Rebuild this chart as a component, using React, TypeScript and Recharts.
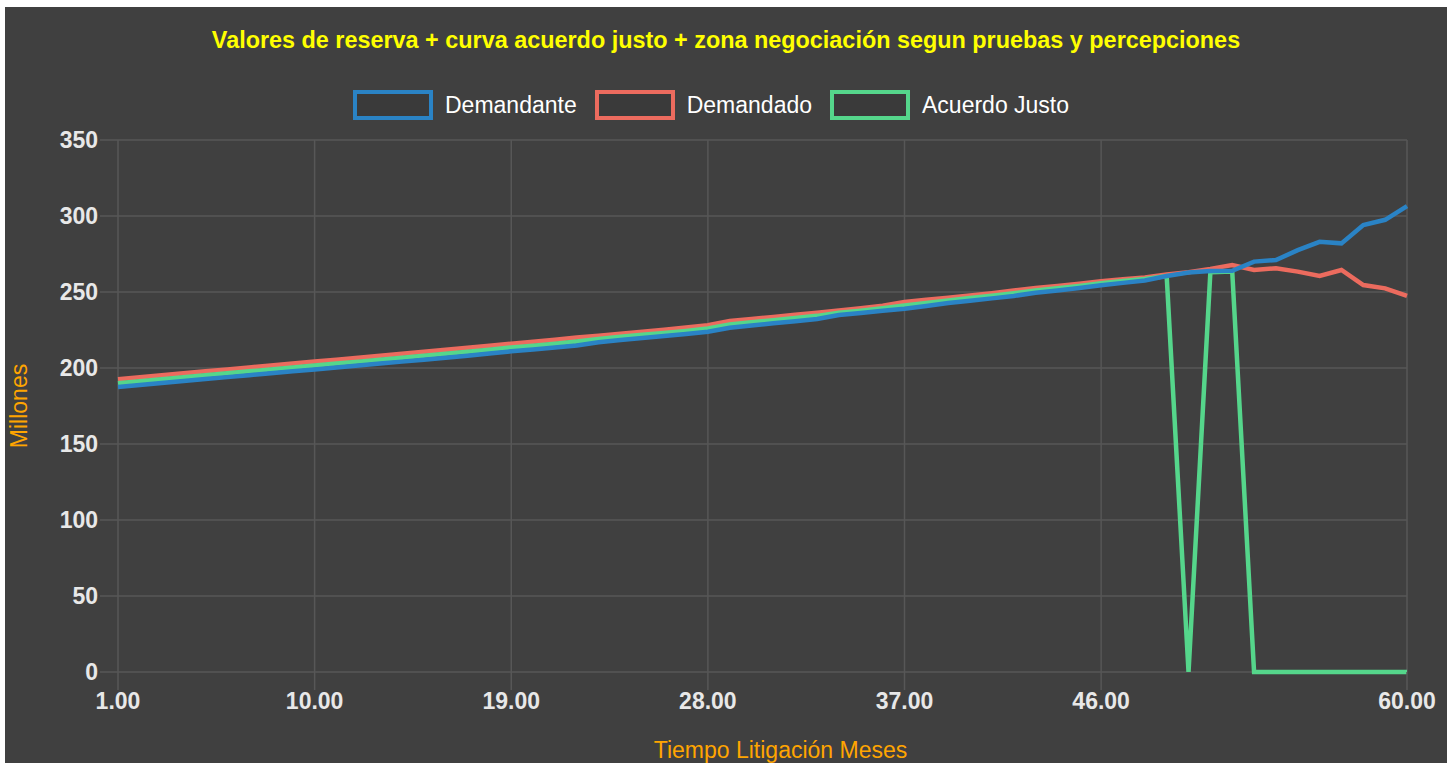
import React from "react";
import { CartesianGrid, Label, Line, LineChart, XAxis, YAxis } from "recharts";

const months = [
  1, 2, 3, 4, 5, 6, 7, 8, 9, 10, 11, 12, 13, 14, 15, 16, 17, 18, 19, 20, 21,
  22, 23, 24, 25, 26, 27, 28, 29, 30, 31, 32, 33, 34, 35, 36, 37, 38, 39, 40,
  41, 42, 43, 44, 45, 46, 47, 48, 49, 50, 51, 52, 53, 54, 55, 56, 57, 58, 59,
  60,
];

const demandante = [
  187.5, 188.8, 190.1, 191.4, 192.7, 194.0, 195.3, 196.5, 197.8, 199.0, 200.3,
  201.6, 202.9, 204.2, 205.5, 206.8, 208.1, 209.5, 211.0, 212.2, 213.5, 214.8,
  217.0, 218.4, 219.7, 221.0, 222.3, 223.8, 226.5, 228.0, 229.4, 230.8, 232.2,
  234.8, 236.2, 237.6, 239.0, 240.8, 242.8, 244.3, 245.8, 247.4, 249.5, 251.0,
  252.6, 254.4, 256.0, 257.6, 260.5, 262.8, 263.8, 264.0, 270.0, 271.0, 277.5,
  283.0, 282.0, 294.0, 297.5, 306.5,
];

const demandado = [
  192.6, 193.9, 195.2, 196.5, 197.8, 199.1, 200.4, 201.7, 203.0, 204.2, 205.5,
  206.8, 208.1, 209.4, 210.7, 212.0, 213.3, 214.6, 216.0, 217.3, 218.6, 220.0,
  221.3, 222.6, 223.9, 225.2, 226.6, 228.2, 230.9, 232.3, 233.6, 235.0, 236.4,
  237.8, 239.3, 241.0, 243.4, 244.9, 246.3, 247.7, 249.2, 251.0, 252.6, 254.0,
  255.4, 257.0, 258.4, 259.6, 261.5, 263.0, 265.2, 267.8, 264.5, 265.6, 263.4,
  260.5, 264.5, 254.6, 252.4, 247.4,
];

const acuerdoJusto = [
  190.0, 191.3, 192.6, 193.9, 195.2, 196.5, 197.8, 199.1, 200.4, 201.6, 202.9,
  204.2, 205.5, 206.8, 208.1, 209.4, 210.7, 212.0, 213.5, 214.7, 216.0, 217.4,
  219.1, 220.5, 221.8, 223.1, 224.4, 226.0, 228.7, 230.1, 231.5, 232.9, 234.3,
  236.3, 237.7, 239.3, 241.2, 242.8, 244.5, 246.0, 247.5, 249.2, 251.0, 252.5,
  254.0, 255.7, 257.2, 258.6, 260.5, 0, 263.0, 263.5, 0, 0, 0, 0, 0, 0, 0, 0,
];

const xTicks = [1, 10, 19, 28, 37, 46, 60];
const yTicks = [0, 50, 100, 150, 200, 250, 300, 350];

const series = [
  { key: "demandante", name: "Demandante", color: "#2a83c5" },
  { key: "demandado", name: "Demandado", color: "#ec6b5e" },
  { key: "acuerdo", name: "Acuerdo Justo", color: "#55d68b" },
];

const data = months.map((m, i) => ({
  mes: m,
  demandante: demandante[i],
  demandado: demandado[i],
  acuerdo: acuerdoJusto[i],
}));

const FONT = "'Liberation Sans', Arial, sans-serif";
const BG = "#404040";
const GRID = "#575757";
const TICK_COLOR = "#e8e8e8";
const ORANGE = "#ffa500";

const tickStyle = {
  fill: TICK_COLOR,
  fontSize: 23,
  fontFamily: FONT,
  fontWeight: "bold" as const,
};

const LegendBoxes = () => (
  <div
    style={{
      position: "absolute",
      top: 83,
      left: 348,
      display: "flex",
      alignItems: "center",
      fontFamily: FONT,
      fontSize: 23,
      color: "#ffffff",
    }}
  >
    {series.map((s) => (
      <div
        key={s.key}
        style={{ display: "flex", alignItems: "center", marginRight: 18 }}
      >
        <div
          style={{
            width: 72,
            height: 22,
            border: `4px solid ${s.color}`,
            background: "#3a3a3a",
            marginRight: 12,
          }}
        />
        <span>{s.name}</span>
      </div>
    ))}
  </div>
);

const YTitle = (props: any) => {
  const vb = props.viewBox || { x: 0, y: 0, width: 0, height: 0 };
  const x = 14;
  const y = vb.y + vb.height / 2;
  return (
    <text
      x={x}
      y={y}
      transform={`rotate(-90, ${x}, ${y})`}
      textAnchor="middle"
      dominantBaseline="central"
      fill={ORANGE}
      fontSize={23}
      fontFamily={FONT}
    >
      Millones
    </text>
  );
};

const XTitle = (props: any) => {
  const vb = props.viewBox || { x: 0, y: 0, width: 0, height: 0 };
  return (
    <text
      x={vb.x + vb.width / 2 + 18}
      y={vb.y + 86}
      textAnchor="middle"
      fill={ORANGE}
      fontSize={23}
      fontFamily={FONT}
    >
      Tiempo Litigación Meses
    </text>
  );
};

export default function App() {
  return (
    <div
      style={{
        position: "absolute",
        left: 5,
        top: 7,
        width: 1442,
        height: 756,
        background: BG,
        overflow: "hidden",
      }}
    >
      <div
        style={{
          position: "absolute",
          top: 19,
          left: 0,
          width: 1442,
          textAlign: "center",
          color: "#ffff00",
          fontFamily: FONT,
          fontWeight: "bold",
          fontSize: 23.4,
          lineHeight: "28px",
        }}
      >
        Valores de reserva + curva acuerdo justo + zona negociación segun
        pruebas y percepciones
      </div>
      <LegendBoxes />
      <LineChart
        width={1442}
        height={756}
        data={data}
        margin={{ top: 133, right: 40, left: 0, bottom: 0 }}
      >
        <CartesianGrid stroke={GRID} strokeWidth={1.5} />
        <XAxis
          dataKey="mes"
          type="number"
          domain={[1, 60]}
          ticks={xTicks}
          interval={0}
          tickFormatter={(v: number) => v.toFixed(2)}
          height={91}
          axisLine={false}
          tickLine={{ stroke: GRID, strokeWidth: 1.5 }}
          tickSize={18}
          tickMargin={3}
          tick={tickStyle}
        >
          <Label content={<XTitle />} />
        </XAxis>
        <YAxis
          type="number"
          domain={[0, 350]}
          ticks={yTicks}
          interval={0}
          width={113}
          axisLine={false}
          tickLine={{ stroke: GRID, strokeWidth: 1.5 }}
          tickSize={18}
          tickMargin={2}
          tick={tickStyle}
        >
          <Label content={<YTitle />} />
        </YAxis>
        <Line
          type="linear"
          dataKey="demandado"
          name="Demandado"
          stroke="#ec6b5e"
          strokeWidth={4.5}
          dot={false}
          activeDot={false}
          isAnimationActive={false}
        />
        <Line
          type="linear"
          dataKey="acuerdo"
          name="Acuerdo Justo"
          stroke="#55d68b"
          strokeWidth={4.5}
          dot={false}
          activeDot={false}
          isAnimationActive={false}
        />
        <Line
          type="linear"
          dataKey="demandante"
          name="Demandante"
          stroke="#2a83c5"
          strokeWidth={4.5}
          dot={false}
          activeDot={false}
          isAnimationActive={false}
        />
      </LineChart>
    </div>
  );
}
